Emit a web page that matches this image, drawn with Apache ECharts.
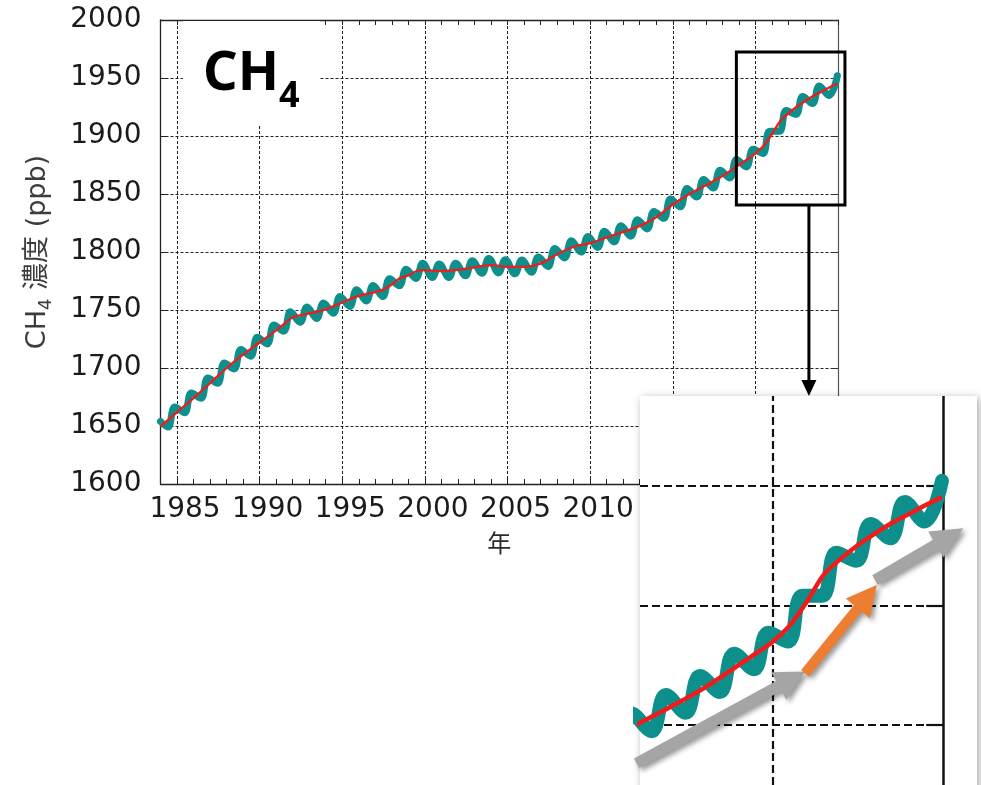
<!DOCTYPE html>
<html><head><meta charset="utf-8">
<script src="https://cdn.jsdelivr.net/npm/echarts@6/dist/echarts.min.js"></script>
<style>html,body{margin:0;padding:0;background:#fff}#c{width:981px;height:785px}</style>
</head><body><div id="c"></div>
<script>
// Deseasonalized trend (red line)
const trendYears = [1984, 1985, 1986, 1987, 1988, 1989, 1990, 1991, 1991.5, 1992, 1992.5, 1993, 1994, 1995, 1996, 1997, 1997.5, 1998, 1998.5, 1999, 1999.5, 2000, 2001, 2002, 2003, 2004, 2005, 2006, 2007, 2008, 2009, 2010, 2011, 2012, 2013, 2014, 2015, 2016, 2017, 2018, 2019, 2019.5, 2020, 2020.5, 2021, 2021.5, 2022, 2022.5, 2023, 2023.5, 2024, 2024.5, 2024.96];
const trendValues = [1649.5, 1662, 1674, 1687, 1700, 1711.5, 1722, 1732.5, 1738.3, 1743.8, 1745.6, 1747, 1750.6, 1756.5, 1762.2, 1765.5, 1767.8, 1772, 1777.5, 1779.8, 1783.6, 1784.4, 1783.5, 1784.5, 1786.8, 1788.7, 1787.2, 1787.2, 1790, 1798, 1804.5, 1807.7, 1812.5, 1817.3, 1822.5, 1830, 1841, 1850, 1857.5, 1865.5, 1875, 1879.8, 1884.8, 1891.6, 1901.5, 1912.8, 1919.5, 1925.2, 1930, 1934.5, 1938.2, 1942, 1945.2];

// Monthly-mean concentrations (teal), read at the seasonal lows and highs
const tealYears = [1984.0,
 1984.45, 1984.87, 1985.45, 1985.87, 1986.45, 1986.87, 1987.45, 1987.87, 1988.45, 1988.87,
 1989.45, 1989.87, 1990.45, 1990.87, 1991.45, 1991.87, 1992.45, 1992.87, 1993.45, 1993.87,
 1994.45, 1994.87, 1995.45, 1995.87, 1996.45, 1996.87, 1997.45, 1997.87, 1998.45, 1998.87,
 1999.45, 1999.87, 2000.45, 2000.87, 2001.45, 2001.87, 2002.45, 2002.87, 2003.45, 2003.87,
 2004.45, 2004.87, 2005.45, 2005.87, 2006.45, 2006.87, 2007.45, 2007.87, 2008.45, 2008.87,
 2009.45, 2009.87, 2010.45, 2010.87, 2011.45, 2011.87, 2012.45, 2012.87, 2013.45, 2013.87,
 2014.45, 2014.87, 2015.45, 2015.87, 2016.45, 2016.87, 2017.45, 2017.87, 2018.45, 2018.87,
 2019.45, 2019.87, 2020.45, 2020.87, 2021.45, 2021.87, 2022.45, 2022.87, 2023.45, 2023.87,
 2024.45, 2024.96];
const tealValues = [1654,
 1649.1, 1666.4, 1661.4, 1678.4, 1673.9, 1691.3, 1686.9, 1704.3, 1699.2, 1716,
 1710.2, 1726.6, 1720.7, 1737.1, 1731.7, 1748.4, 1739.4, 1752.6, 1742.6, 1756.1,
 1747.3, 1761.7, 1753.1, 1767.5, 1757.7, 1771.1, 1761.6, 1776.9, 1771, 1785.2,
 1777.2, 1790.2, 1778, 1789.6, 1778, 1790.4, 1779.5, 1792.5, 1781.7, 1794.5,
 1782, 1793.4, 1781.2, 1793.2, 1782.5, 1795.6, 1787.6, 1803, 1794.9, 1809.7,
 1799.9, 1813.3, 1803.9, 1817.9, 1808.7, 1822.7, 1813.6, 1827.8, 1819.9, 1835,
 1829, 1845.6, 1839, 1854.8, 1847.4, 1862.5, 1855.1, 1870.5, 1863.8, 1879.8,
 1873.3, 1888.5, 1884.9, 1904, 1904, 1922, 1918.6, 1934, 1928, 1943.2,
 1935, 1952];

const gridYears = [1985, 1990, 1995, 2000, 2005, 2010, 2015, 2020];
const insetGridValues = [1850, 1900, 1950];

const TEAL = '#0d8f8b';
const RED = '#f01c1c';
const FONT = 'DejaVu Sans, Noto Sans CJK JP, sans-serif';

const trendData = trendYears.map((y, i) => [y, trendValues[i]]);
const tealData = tealYears.map((y, i) => [y, tealValues[i]]);

const chart = echarts.init(document.getElementById('c'), null, {renderer: 'canvas'});

const mainX = {min: 1984, max: 2025};
const insetX = {min: 2016.111, max: 2025.988};
const insetY = {min: 1824.9, max: 1987.46};

chart.setOption({
  animation: false,
  backgroundColor: '#ffffff',
  grid: [
    {left: 160.5, right: 143, top: 20, bottom: 301},
    {left: 640, top: 396, width: 337, height: 389}
  ],
  xAxis: [
    {gridIndex: 0, type: 'value', min: mainX.min, max: mainX.max, interval: 1, position: 'bottom',
     axisLine: {show: true, onZero: false, lineStyle: {color: '#222', width: 1.3}},
     axisTick: {show: true, inside: true, length: 5, lineStyle: {color: '#222', width: 1}},
     axisLabel: {formatter: v => (v % 5 === 0 ? String(v) : ''), fontSize: 28, fontFamily: FONT, color: '#1b1b1b', margin: 12, padding: [0, 0, 0, 16]},
     splitLine: {show: false},
     name: '年', nameLocation: 'middle', nameGap: 47,
     nameTextStyle: {fontSize: 24, fontFamily: 'Noto Sans CJK JP', color: '#2a2a2a'}},
    {gridIndex: 0, type: 'value', min: mainX.min, max: mainX.max, interval: 1, position: 'top',
     axisLine: {show: true, onZero: false, lineStyle: {color: '#222', width: 1.3}},
     axisTick: {show: true, inside: true, length: 5, lineStyle: {color: '#222', width: 1}},
     axisLabel: {show: false}, splitLine: {show: false}},
    {gridIndex: 1, type: 'value', min: insetX.min, max: insetX.max, show: false, z: 11}
  ],
  yAxis: [
    {gridIndex: 0, type: 'value', min: 1600, max: 2000, interval: 50, position: 'left',
     axisLine: {show: true, onZero: false, lineStyle: {color: '#222', width: 1.3}},
     axisTick: {show: true, inside: true, length: 7, lineStyle: {color: '#222'}},
     axisLabel: {formatter: v => String(v), fontSize: 28, fontFamily: FONT, color: '#1b1b1b', margin: 19},
     splitLine: {show: true, lineStyle: {type: [3, 2], color: '#222', width: 1}},
     name: '{a|CH}{s|4}{a| 濃度 (ppb)}', nameLocation: 'middle', nameGap: 105, nameRotate: 90,
     nameTextStyle: {rich: {
       a: {fontSize: 27, fontFamily: FONT, color: '#3c3c3c', lineHeight: 36},
       s: {fontSize: 18, fontFamily: FONT, color: '#3c3c3c', verticalAlign: 'bottom', lineHeight: 18}
     }}},
    {gridIndex: 0, type: 'value', min: 1600, max: 2000, interval: 50, position: 'right',
     axisLine: {show: true, onZero: false, lineStyle: {color: '#555', width: 1.2}},
     axisTick: {show: true, inside: true, length: 7, lineStyle: {color: '#333'}},
     axisLabel: {show: false}, splitLine: {show: false}},
    {gridIndex: 1, type: 'value', min: insetY.min, max: insetY.max, show: false, z: 11}
  ],
  series: [
    {type: 'line', xAxisIndex: 0, yAxisIndex: 0, data: trendData, z: 1, silent: true,
     showSymbol: false, symbol: 'none', lineStyle: {opacity: 0},
     markLine: {z: 1, silent: true, symbol: 'none', label: {show: false},
       lineStyle: {type: [3, 2], color: '#222', width: 1},
       data: gridYears.map(y => ({xAxis: y}))}},
    {type: 'line', xAxisIndex: 0, yAxisIndex: 0, data: tealData, z: 3, smooth: 0.4,
     symbol: 'none', lineStyle: {color: TEAL, width: 7, cap: 'round', join: 'round'}},
    {type: 'line', xAxisIndex: 0, yAxisIndex: 0, data: trendData, z: 4, smooth: 0.35,
     symbol: 'none', lineStyle: {color: RED, width: 2.3}},
    // inset
    {type: 'line', xAxisIndex: 2, yAxisIndex: 2, data: trendData, z: 11, silent: true,
     symbol: 'none', lineStyle: {opacity: 0},
     markLine: {z: 11, silent: true, symbol: 'none', label: {show: false},
       lineStyle: {type: [8, 4], color: '#111', width: 2},
       data: [
         {xAxis: 2020, lineStyle: {type: [8, 4], width: 2.2}},
         {xAxis: 2025, lineStyle: {type: 'solid', width: 2.5}}
       ].concat(insetGridValues.map(v => [{coord: [insetX.min, v]}, {coord: [2025, v]}]))
        .concat(insetGridValues.map(v => [{coord: [2024.5, v], lineStyle: {type: 'solid', width: 2.2}}, {coord: [2025, v]}]))
     }},
    {type: 'line', xAxisIndex: 2, yAxisIndex: 2, data: tealData, z: 12, smooth: 0.4,
     symbol: 'none', lineStyle: {color: TEAL, width: 14, cap: 'round', join: 'round'}},
    {type: 'line', xAxisIndex: 2, yAxisIndex: 2, data: trendData, z: 13, smooth: 0.35,
     symbol: 'none', lineStyle: {color: RED, width: 4.5}}
  ],
  graphic: [
    {id: 'titleBox', type: 'rect', z: 5, shape: {x: 183, y: 21, width: 137, height: 104}, style: {fill: '#fff'}},
    {id: 'titleCH', type: 'text', z: 6, x: 203, y: 75,
     style: {text: 'CH', font: 'bold 54px "Noto Sans", sans-serif', fill: '#000', verticalAlign: 'middle', align: 'left'}},
    {id: 'title4', type: 'text', z: 6, x: 279, y: 97,
     style: {text: '4', font: 'bold 36px "Noto Sans", sans-serif', fill: '#000', verticalAlign: 'middle', align: 'left'}},
    {id: 'insetBg', type: 'rect', z: 10, shape: {x: 640, y: 396, width: 337, height: 400},
     style: {fill: '#fff', shadowBlur: 8, shadowColor: 'rgba(0,0,0,0.35)', shadowOffsetX: 2, shadowOffsetY: 2}}
  ]
});

// Annotations positioned from data coordinates
function arrowPoly(p0, p1, shaftW, headW, headL) {
  const dx = p1[0] - p0[0], dy = p1[1] - p0[1];
  const L = Math.hypot(dx, dy);
  const ux = dx / L, uy = dy / L, nx = -uy, ny = ux;
  const bx = p1[0] - ux * headL, by = p1[1] - uy * headL;
  const s = shaftW / 2, h = headW / 2;
  return [[p0[0] + nx * s, p0[1] + ny * s], [bx + nx * s, by + ny * s], [bx + nx * h, by + ny * h],
          [p1[0], p1[1]], [bx - nx * h, by - ny * h], [bx - nx * s, by - ny * s], [p0[0] - nx * s, p0[1] - ny * s]];
}
const toMain = (x, y) => chart.convertToPixel({xAxisIndex: 0, yAxisIndex: 0}, [x, y]);
const toInset = (x, y) => chart.convertToPixel({xAxisIndex: 2, yAxisIndex: 2}, [x, y]);

const r0 = toMain(2018.85, 1972.4), r1 = toMain(2025.42, 1840.5);
const pa0 = toMain(2023.24, 1840.5), pa1 = toMain(2023.24, 1675.9);
const shadow = {shadowBlur: 5, shadowColor: 'rgba(0,0,0,0.4)', shadowOffsetX: 3, shadowOffsetY: 3};

chart.setOption({
  graphic: [
    {id: 'zoomRect', type: 'rect', z: 8,
     shape: {x: r0[0], y: r0[1], width: r1[0] - r0[0], height: r1[1] - r0[1]},
     style: {fill: 'none', stroke: '#000', lineWidth: 3}},
    {id: 'pointer', type: 'polygon', z: 8,
     shape: {points: arrowPoly(pa0, pa1, 3, 15, 16)}, style: {fill: '#000'}},
    {id: 'gray1', type: 'polygon', z: 20,
     shape: {points: arrowPoly(toInset(2016.01, 1834.0), toInset(2020.95, 1872.3), 11, 31, 30)},
     style: Object.assign({fill: '#a5a5a5'}, shadow)},
    {id: 'orange', type: 'polygon', z: 20,
     shape: {points: arrowPoly(toInset(2020.95, 1871.6), toInset(2023.05, 1908.5), 10, 31, 30)},
     style: Object.assign({fill: '#ed7d31'}, shadow)},
    {id: 'gray2', type: 'polygon', z: 20,
     shape: {points: arrowPoly(toInset(2023.0, 1910.6), toInset(2025.59, 1932.2), 11, 30, 32)},
     style: Object.assign({fill: '#a5a5a5'}, shadow)}
  ]
});
</script>
</body></html>
